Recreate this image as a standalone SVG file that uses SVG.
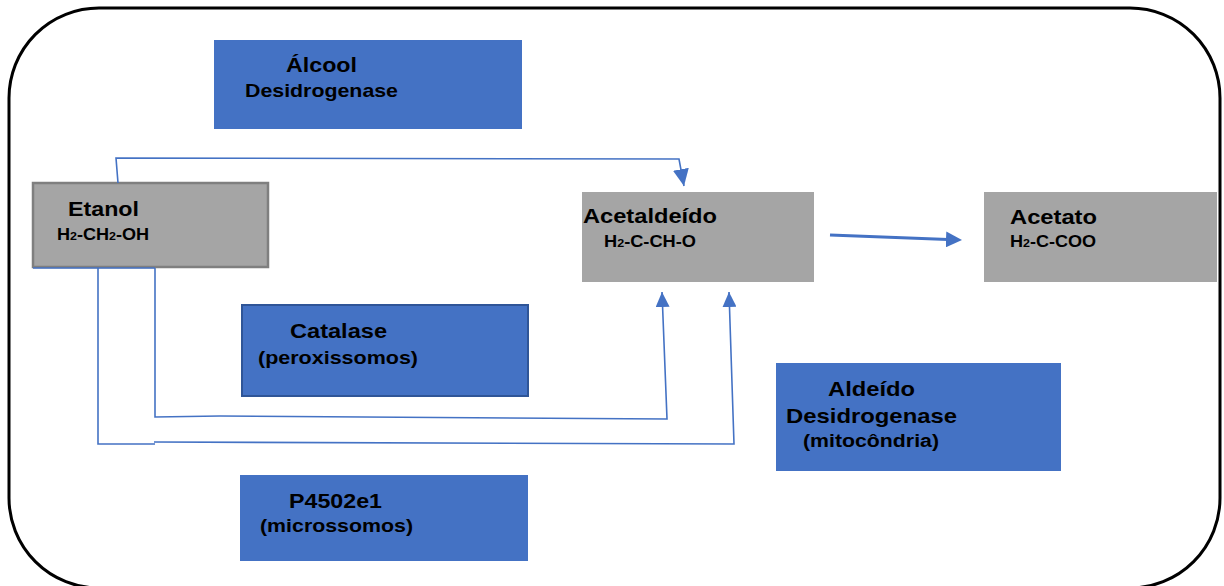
<svg xmlns="http://www.w3.org/2000/svg" width="1224" height="586" viewBox="0 0 1224 586">
<style>
.bg{fill:#fff}
.frame{fill:none;stroke:#000;stroke-width:3}
.blue{fill:#4472C4}
.grey{fill:#A5A5A5}
.t{font-family:"Liberation Sans",Arial,sans-serif;font-weight:bold;fill:#000}
.c{fill:none;stroke:#4472C4;stroke-width:1.6}
.thick{stroke-width:3.2}
</style>
<defs>
<marker id="ah" markerUnits="userSpaceOnUse" markerWidth="16" markerHeight="14" refX="15" refY="7" orient="auto">
<path d="M0,0 L15,7 L0,14 z" fill="#4472C4"/>
</marker>
<marker id="ahBig" markerUnits="userSpaceOnUse" markerWidth="18" markerHeight="16" refX="17" refY="8" orient="auto">
<path d="M0,0 L17,8 L0,16 z" fill="#4472C4"/>
</marker>
<marker id="ahThick" markerUnits="userSpaceOnUse" markerWidth="18" markerHeight="16" refX="2" refY="8" orient="auto">
<path d="M0,0 L16,8 L0,16 z" fill="#4472C4"/>
</marker>
</defs>
<rect class="bg" x="0" y="0" width="1224" height="586"/>
<rect class="frame" x="9" y="8" width="1211" height="580" rx="90" ry="90"/>

<g id="alcool-desidrogenase">
<rect class="blue" x="214" y="40" width="308" height="89"/>
<text class="t" x="286" y="72" font-size="21" textLength="71" lengthAdjust="spacingAndGlyphs">Álcool</text>
<text class="t" x="245" y="97" font-size="19" textLength="153" lengthAdjust="spacingAndGlyphs">Desidrogenase</text>
</g>

<g id="etanol">
<rect class="grey" x="33" y="183" width="235" height="84" stroke="#7F7F7F" stroke-width="2.5"/>
<text class="t" x="68" y="216" font-size="21" textLength="71" lengthAdjust="spacingAndGlyphs">Etanol</text>
<text class="t" x="57" y="240" font-size="16" textLength="92" lengthAdjust="spacingAndGlyphs">H<tspan font-size="11">2</tspan>-CH<tspan font-size="11">2</tspan>-OH</text>
</g>

<g id="acetaldeido">
<rect class="grey" x="582" y="192" width="232" height="90"/>
<text class="t" x="583" y="223" font-size="21" textLength="134" lengthAdjust="spacingAndGlyphs">Acetaldeído</text>
<text class="t" x="604" y="247" font-size="16" textLength="92" lengthAdjust="spacingAndGlyphs">H<tspan font-size="11">2</tspan>-C-CH-O</text>
</g>

<g id="acetato">
<rect class="grey" x="984" y="192" width="233" height="90"/>
<text class="t" x="1010" y="224" font-size="21" textLength="87" lengthAdjust="spacingAndGlyphs">Acetato</text>
<text class="t" x="1010" y="247" font-size="16" textLength="86" lengthAdjust="spacingAndGlyphs">H<tspan font-size="11">2</tspan>-C-COO</text>
</g>

<g id="catalase">
<rect class="blue" x="242" y="305" width="286" height="91" stroke="#2F5597" stroke-width="2"/>
<text class="t" x="290" y="338" font-size="20" textLength="97" lengthAdjust="spacingAndGlyphs">Catalase</text>
<text class="t" x="258" y="364" font-size="18" textLength="160" lengthAdjust="spacingAndGlyphs">(peroxissomos)</text>
</g>

<g id="aldeido-desidrogenase">
<rect class="blue" x="776" y="363" width="285" height="108"/>
<text class="t" x="828" y="396" font-size="21" textLength="87" lengthAdjust="spacingAndGlyphs">Aldeído</text>
<text class="t" x="786" y="423" font-size="21" textLength="171" lengthAdjust="spacingAndGlyphs">Desidrogenase</text>
<text class="t" x="803" y="447" font-size="18" textLength="136" lengthAdjust="spacingAndGlyphs">(mitocôndria)</text>
</g>

<g id="p450">
<rect class="blue" x="240" y="475" width="288" height="86"/>
<text class="t" x="289" y="508" font-size="21" textLength="93" lengthAdjust="spacingAndGlyphs">P4502e1</text>
<text class="t" x="260" y="532" font-size="18" textLength="153" lengthAdjust="spacingAndGlyphs">(microssomos)</text>
</g>

<g id="connectors">
<path class="c" d="M118,183 L116,158 L679,159 L684,186" marker-end="url(#ahBig)"/>
<path class="c thick" d="M830,235 L948,239.5" marker-end="url(#ahThick)"/>
<path class="c" d="M33,268 L155,268"/>
<path class="c" d="M155,268 L155,417 L220,416 L667,419 L662,292" marker-end="url(#ah)"/>
<path class="c" d="M98,268 L98,444 L155,444"/>
<path class="c" d="M154,442 L734,444 L729,292" marker-end="url(#ah)"/>
</g>
</svg>
